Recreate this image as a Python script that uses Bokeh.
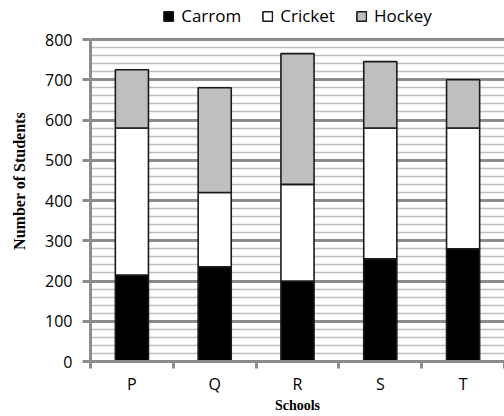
from bokeh.plotting import figure
from bokeh.models import (ColumnDataSource, Range1d, LinearAxis, FixedTicker, Legend)
from bokeh.embed import file_html
from bokeh.resources import INLINE

schools = ["P", "Q", "R", "S", "T"]
carrom = [215, 235, 200, 255, 280]
cricket = [365, 185, 240, 325, 300]
hockey = [145, 260, 325, 165, 120]
series = ["Carrom", "Cricket", "Hockey"]
colors = ["#000000", "#ffffff", "#bfbfbf"]
y_ticks = list(range(0, 801, 100))

n = len(schools)
centers = [i + 0.5 for i in range(n)]
bounds = list(range(n + 1))
source = ColumnDataSource(dict(x=centers, school=schools, Carrom=carrom, Cricket=cricket, Hockey=hockey))

# frame reaches the top of the figure so the legend can sit above the 800 line
p = figure(width=504, height=416, x_range=Range1d(0, n),
           y_range=Range1d(0, 800 * 361 / 322), output_backend="svg", toolbar_location=None,
           x_axis_location=None, y_axis_location=None,
           min_border_left=90, min_border_right=0, min_border_top=0, min_border_bottom=55)
p.outline_line_color = None
p.background_fill_color = "white"

renderers = p.vbar_stack(series, x="x", width=0.4, source=source, color=colors,
                         line_color="#1a1a1a", line_width=1.6)

# y axis
yax = LinearAxis(ticker=FixedTicker(ticks=y_ticks, minor_ticks=list(range(0, 801, 20))),
                 axis_label="Number of Students", bounds=(0, 800))
yax.axis_line_color = "#8c8c8c"
yax.axis_line_width = 3
yax.major_tick_line_color = "#8c8c8c"
yax.major_tick_line_width = 3
yax.major_tick_out = 8
yax.major_tick_in = 0
yax.minor_tick_out = 0
yax.minor_tick_in = 0
yax.major_label_text_font = "Open Sans"
yax.major_label_text_font_size = "16px"
yax.major_label_text_color = "#000000"
yax.major_label_standoff = 10
yax.axis_label_text_font = "Liberation Serif"
yax.axis_label_text_font_style = "bold"
yax.axis_label_text_font_size = "16px"
yax.axis_label_text_color = "#000000"
yax.axis_label_standoff = 14
p.add_layout(yax, "left")

# x axis: labels at centres, ticks (minor) at category boundaries
xax = LinearAxis(ticker=FixedTicker(ticks=centers, minor_ticks=bounds), axis_label="Schools",
                 major_label_overrides={c: s for c, s in zip(centers, schools)})
xax.axis_line_color = "#8c8c8c"
xax.axis_line_width = 3
xax.major_tick_line_color = None
xax.major_tick_out = 0
xax.major_tick_in = 0
xax.minor_tick_line_color = "#8c8c8c"
xax.minor_tick_line_width = 3
xax.minor_tick_out = 7
xax.minor_tick_in = 0
xax.major_label_text_font = "Open Sans"
xax.major_label_text_font_size = "16px"
xax.major_label_text_color = "#000000"
xax.major_label_standoff = 4
xax.axis_label_text_font = "Liberation Serif"
xax.axis_label_text_font_style = "bold"
xax.axis_label_text_font_size = "14px"
xax.axis_label_text_color = "#000000"
xax.axis_label_standoff = 0
p.add_layout(xax, "below")

# grid
p.xgrid.grid_line_color = None
p.ygrid.ticker = yax.ticker
p.ygrid.grid_line_color = "#8c8c8c"
p.ygrid.grid_line_width = 3
p.ygrid.minor_grid_line_color = "#bdbdbd"
p.ygrid.minor_grid_line_width = 1.5
p.ygrid.level = "underlay"

legend = Legend(items=[(s, [r]) for s, r in zip(series, renderers)],
                orientation="horizontal", location="top_center")
legend.border_line_color = None
legend.background_fill_alpha = 0
legend.padding = 0
legend.margin = 4
legend.spacing = 20
legend.glyph_width = 12
legend.glyph_height = 12
legend.label_standoff = 7
legend.label_text_font = "Open Sans"
legend.label_text_font_size = "17px"
legend.label_text_color = "#000000"
p.add_layout(legend, "center")

open("out.html", "w").write(file_html(p, INLINE))
